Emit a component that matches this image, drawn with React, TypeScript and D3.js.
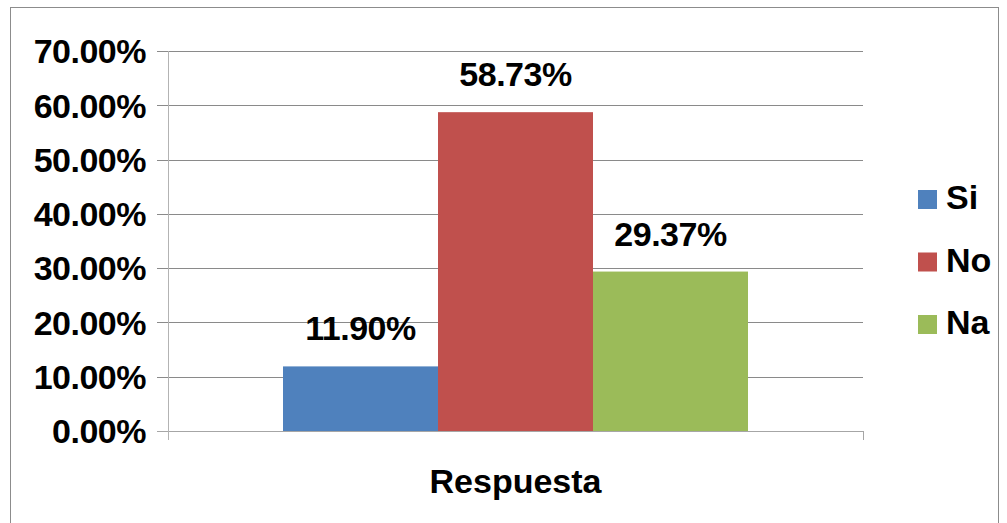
import * as d3 from 'd3';

const category = 'Respuesta';
const series = ['Si', 'No', 'Na'];
const values = [0.119, 0.5873, 0.2937];
const colors = ['#4F81BD', '#C0504D', '#9BBB59'];
const yTicks = [0, 0.1, 0.2, 0.3, 0.4, 0.5, 0.6, 0.7];

export default function App() {
  const width = 1007;
  const height = 523;
  const font = '"Liberation Sans", Arial, sans-serif';
  const fs = 34;

  const plot = { left: 168, right: 863, top: 51, bottom: 431 };

  const y = d3.scaleLinear().domain([0, 0.7]).range([plot.bottom, plot.top]);
  const x = d3
    .scaleBand<string>()
    .domain(series)
    .range([plot.left, plot.right])
    .paddingInner(0)
    .paddingOuter(0.742);

  const fmt = d3.format('.2%');

  return (
    <svg
      width={width}
      height={height}
      style={{ position: 'absolute', left: 0, top: 0, background: '#fff' }}
      fontFamily={font}
    >
      {/* outer frame */}
      <rect x={10.5} y={7.5} width={988} height={530} fill="none" stroke="#8c8c8c" strokeWidth={1} />

      {/* gridlines + y tick labels */}
      {yTicks.map(t => (
        <g key={t}>
          <line
            x1={157}
            x2={plot.right}
            y1={Math.round(y(t)) + 0.5}
            y2={Math.round(y(t)) + 0.5}
            stroke={t === 0 ? '#a6a6a6' : '#8a8a8a'}
          />
          <text
            x={146}
            y={y(t)}
            dy="0.36em"
            textAnchor="end"
            fontSize={fs}
            fontWeight="bold"
            fill="#000"
            letterSpacing={-0.5}
          >
            {fmt(t)}
          </text>
        </g>
      ))}

      {/* y axis */}
      <line x1={plot.left + 0.5} x2={plot.left + 0.5} y1={plot.top} y2={plot.bottom + 9} stroke="#b3b3b3" />
      <line x1={plot.right + 0.5} x2={plot.right + 0.5} y1={plot.bottom} y2={plot.bottom + 9} stroke="#a6a6a6" />

      {/* bars */}
      {series.map((s, i) => (
        <rect
          key={s}
          x={x(s)}
          y={y(values[i])}
          width={x.bandwidth()}
          height={y(0) - y(values[i])}
          fill={colors[i]}
        />
      ))}

      {/* data labels */}
      {series.map((s, i) => (
        <text
          key={s}
          x={(x(s) as number) + x.bandwidth() / 2}
          y={y(values[i]) - 26}
          textAnchor="middle"
          fontSize={fs}
          fontWeight="bold"
          fill="#000"
          letterSpacing={-0.5}
        >
          {fmt(values[i])}
        </text>
      ))}

      {/* category label */}
      <text
        x={(plot.left + plot.right) / 2}
        y={493}
        textAnchor="middle"
        fontSize={fs}
        fontWeight="bold"
        fill="#000"
      >
        {category}
      </text>

      {/* legend */}
      {series.map((s, i) => (
        <g key={s} transform={`translate(918, ${190 + i * 62.5})`}>
          <rect x={0} y={0} width={19} height={19} fill={colors[i]} />
          <text x={28} y={19} fontSize={fs} fontWeight="bold" fill="#000">
            {s}
          </text>
        </g>
      ))}
    </svg>
  );
}
